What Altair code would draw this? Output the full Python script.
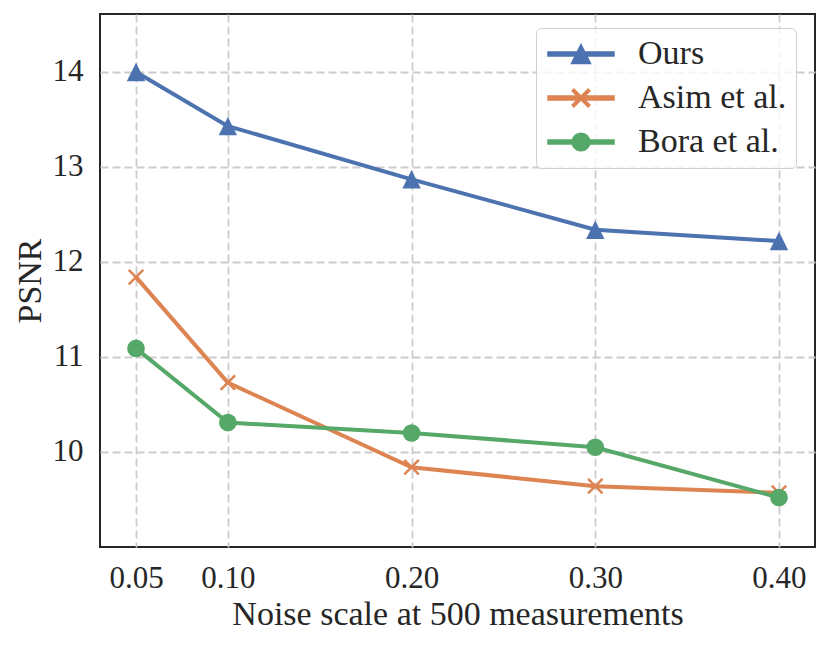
import altair as alt
import pandas as pd

# ---- data ----
noise = [0.05, 0.10, 0.20, 0.30, 0.40]
ours = [14.00, 13.43, 12.87, 12.34, 12.22]
asim = [11.84, 10.73, 9.84, 9.64, 9.57]
bora = [11.09, 10.31, 10.20, 10.05, 9.52]
methods = ["Ours", "Asim et al.", "Bora et al."]
colors = ["#4C72B0", "#DD8452", "#55A868"]
x_ticks = [0.05, 0.10, 0.20, 0.30, 0.40]
y_ticks = [10, 11, 12, 13, 14]

rows = []
for name, vals in zip(methods, [ours, asim, bora]):
    for xv, yv in zip(noise, vals):
        rows.append({"noise": xv, "psnr": yv, "method": name})
df = pd.DataFrame(rows)

FONT = "Liberation Serif"
TXT = "#262626"

xs = alt.Scale(domain=[0.0304, 0.4196], nice=False, zero=False)
ys = alt.Scale(domain=[9.0, 14.61], nice=False, zero=False)
cs = alt.Scale(domain=methods, range=colors)

X = alt.X("noise:Q", scale=xs,
          axis=alt.Axis(values=x_ticks, format=".2f",
                        title="Noise scale at 500 measurements",
                        labelBaseline="alphabetic", labelPadding=40,
                        titleBaseline="alphabetic", titleY=77))
Y = alt.Y("psnr:Q", scale=ys,
          axis=alt.Axis(values=y_ticks, format="d", title="PSNR",
                        labelPadding=17, titleBaseline="alphabetic", titleX=-60))

base = alt.Chart(df)

# legend symbols: line segment + marker, in units of r = 10px (symbolSize 400)
line_seg = "M-3.3,-0.2L3.3,-0.2L3.3,0.2L-3.3,0.2Z"
leg_paths = [
    line_seg + "M0,-0.95L0.95,0.95L-0.95,0.95Z",
    line_seg + "M-0.712,-0.888L0.888,0.712L0.712,0.888L-0.888,-0.712Z"
               "M-0.888,0.712L0.712,-0.888L0.888,-0.712L-0.712,0.888Z",
    line_seg + "M0.885,0A0.885,0.885 0 1,1 -0.885,0A0.885,0.885 0 1,1 0.885,0Z",
]

leg = alt.Legend(title=None, orient="none", legendX=436, legendY=14,
                 symbolSize=400, symbolOffset=19, labelOffset=40,
                 rowPadding=10, padding=9,
                 labelFont=FONT, labelFontSize=34,
                 labelColor=TXT, fillColor="rgba(255,255,255,0.8)",
                 strokeColor="#d0d0d0", cornerRadius=5, labelLimit=400)

legend_layer = base.mark_point(filled=True, opacity=1, size=1).encode(
    x=X, y=Y,
    fill=alt.Fill("method:N", scale=cs, legend=leg),
    shape=alt.Shape("method:N", scale=alt.Scale(domain=methods, range=leg_paths), legend=leg),
)

lines = base.mark_line(strokeWidth=4).encode(
    x=X, y=Y, color=alt.Color("method:N", scale=cs, legend=None))

def pts(name, **kw):
    return base.transform_filter(alt.datum.method == name).mark_point(opacity=1, **kw).encode(
        x=X, y=Y, color=alt.Color("method:N", scale=cs, legend=None))

p_ours = pts("Ours", shape="M0,-1L1,1L-1,1Z", filled=True, size=340)
p_asim = pts("Asim et al.", shape="M-1,-1L1,1M-1,1L1,-1", filled=False, size=210, strokeWidth=2.5)
p_bora = pts("Bora et al.", shape="circle", filled=True, size=313)

chart = alt.layer(legend_layer, lines, p_ours, p_asim, p_bora).properties(
    width=715, height=533,
    autosize=alt.AutoSizeParams(type="none"),
    padding={"left": 92, "top": 6, "right": 7, "bottom": 90},
    background="white",
).configure_view(
    stroke=TXT, strokeWidth=2
).configure_axis(
    grid=True, gridColor="#cccccc", gridDash=[8, 4], gridWidth=1.8,
    domain=False, ticks=False, tickSize=0,
    labelFont=FONT, labelFontSize=31, labelColor=TXT,
    titleFont=FONT, titleFontSize=34, titleColor=TXT, titleFontWeight="normal",
)

chart.save("out.html", embed_options={"renderer": "svg", "actions": False})
